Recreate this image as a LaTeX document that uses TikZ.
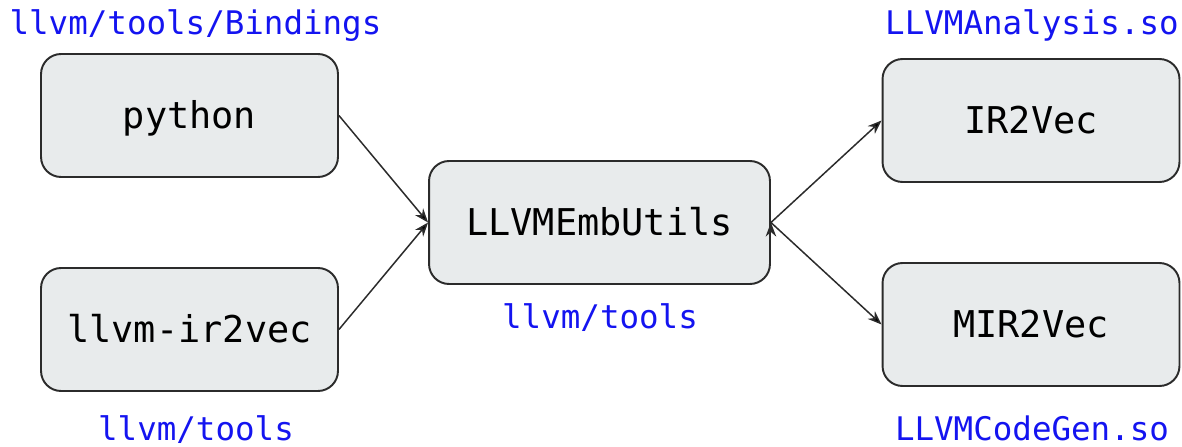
\documentclass[tikz,border=0pt]{standalone}
\usepackage{fontspec}
\usepackage{xcolor}
\usepackage{tikz}
\usetikzlibrary{arrows.meta, positioning}
\setmonofont{DejaVu Sans Mono}

\definecolor{boxfill}{HTML}{E8EBEC}
\definecolor{boxline}{HTML}{2B2B2B}
\definecolor{pathblue}{RGB}{20,20,240}

\tikzset{
  box/.style={draw=boxline, fill=boxfill, line width=1.1pt, rounded corners=0.4cm,
    minimum width=5.94cm, minimum height=2.46cm,
    font=\ttfamily\fontsize{21}{25}\selectfont, text height=15pt, text depth=0pt},
  loc/.style={text=pathblue, anchor=base, inner sep=0pt,
    font=\ttfamily\fontsize{18.5}{22}\selectfont},
}

\begin{document}
\begin{tikzpicture}[x=0.02cm, y=-0.02cm, >={Stealth[length=8pt, width=6pt]}, line width=0.85pt]
        \useasboundingbox (0,0) rectangle (1182,446);

        \node[box] (python) at (189.5,115.5) {python};
        \node[box] (ir2vectool) at (189.5,329.5) {llvm-ir2vec};
        \node[box, minimum width=6.82cm] (embutils) at (599.5,222.5) {LLVMEmbUtils};
        \node[box] (ir2vec) at (1031,120.5) {IR2Vec};
        \node[box] (mir2vec) at (1031,324.5) {MIR2Vec};

        \node[loc] (bindings) at (195.5,35) {llvm/tools/Bindings};
        \node[loc] (tools) at (600,328) {llvm/tools};
        \node[loc] (tools2) at (196,440) {llvm/tools};
        \node[loc] (analysis) at (1032,35) {LLVMAnalysis.so};
        \node[loc] (codegen) at (1032,440) {LLVMCodeGen.so};

        \path[->, draw=boxline]
        (python.east) edge (embutils.west)
        (ir2vectool.east) edge (embutils.west)
        (embutils.east) edge (ir2vec.west)
        (embutils.east) edge (mir2vec.west);

    \end{tikzpicture}
\end{document}
